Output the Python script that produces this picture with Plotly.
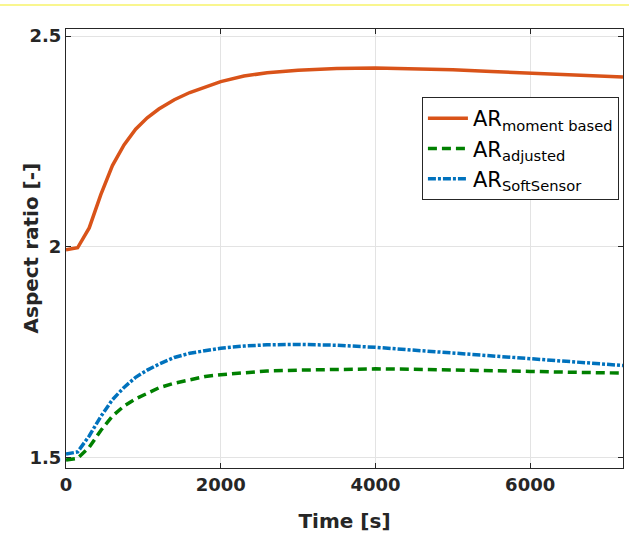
import plotly.graph_objects as go

time_s = [0, 150, 300, 450, 600, 750, 900, 1050, 1200, 1400, 1600, 1800, 2000,
          2300, 2600, 3000, 3500, 4000, 4500, 5000, 5500, 6000, 6500, 7000, 7200]
ar_moment = [1.993, 1.998, 2.045, 2.124, 2.193, 2.242, 2.279, 2.306, 2.327, 2.349,
             2.366, 2.379, 2.392, 2.405, 2.413, 2.419, 2.423, 2.424, 2.423, 2.420,
             2.416, 2.412, 2.409, 2.405, 2.403]
ar_adjusted = [1.495, 1.499, 1.525, 1.565, 1.599, 1.623, 1.640, 1.654, 1.666, 1.677,
               1.686, 1.693, 1.697, 1.702, 1.706, 1.708, 1.710, 1.711, 1.710, 1.709,
               1.707, 1.705, 1.703, 1.702, 1.701]
ar_soft = [1.509, 1.514, 1.552, 1.598, 1.638, 1.667, 1.691, 1.708, 1.722, 1.738,
           1.748, 1.755, 1.760, 1.765, 1.768, 1.769, 1.767, 1.762, 1.755, 1.748,
           1.741, 1.735, 1.728, 1.722, 1.719]

x_ticks = [0, 2000, 4000, 6000]
y_ticks = [1.5, 2, 2.5]
y_tick_labels = ["1.5", "2", "2.5"]

FONT = "DejaVu Sans"

fig = go.Figure()
fig.add_trace(go.Scatter(x=time_s, y=ar_moment, mode="lines",
                         name="AR<sub>moment based</sub>",
                         line=dict(color="#D95319", width=3.5)))
fig.add_trace(go.Scatter(x=time_s, y=ar_adjusted, mode="lines",
                         name="AR<sub>adjusted</sub>",
                         line=dict(color="#008000", width=3.5, dash="9px,5px")))
fig.add_trace(go.Scatter(x=time_s, y=ar_soft, mode="lines",
                         name="AR<sub>SoftSensor</sub>",
                         line=dict(color="#0072BD", width=3.5, dash="8px,2px,3px,2px")))

axis_common = dict(
    showline=True, linecolor="#262626", linewidth=1, mirror="ticks",
    ticks="inside", ticklen=5, tickcolor="#262626", tickwidth=1,
    showgrid=True, gridcolor="#e3e3e3", gridwidth=1, zeroline=False,
    tickfont=dict(family=FONT, size=18, color="#262626", weight="bold"),
)

fig.update_layout(
    width=629, height=542,
    margin=dict(l=66, r=6, t=29, b=74),
    paper_bgcolor="white", plot_bgcolor="white",
    showlegend=True,
    legend=dict(x=0.639, y=0.845, xanchor="left", yanchor="top",
                bgcolor="white", bordercolor="#262626", borderwidth=1,
                font=dict(family=FONT, size=21, color="black"),
                tracegroupgap=0, itemwidth=40),
    xaxis=dict(range=[0, 7200], tickvals=x_ticks,
               title=dict(text="Time [s]", standoff=20,
                          font=dict(family=FONT, size=20, color="#262626", weight="bold")),
               **axis_common),
    yaxis=dict(range=[1.476, 2.5166], tickvals=y_ticks, ticktext=y_tick_labels,
               **axis_common),
    annotations=[dict(text="Aspect ratio [-]", textangle=-90, showarrow=False,
                      xref="paper", yref="paper", x=-36 / 557, y=0.5,
                      xanchor="center", yanchor="middle",
                      font=dict(family=FONT, size=20, color="#262626", weight="bold"))],
    shapes=[dict(type="line", xref="paper", yref="paper",
                 x0=-66 / 557, x1=563 / 557, y0=1 + 24 / 439, y1=1 + 24 / 439,
                 line=dict(color="#f7f36a", width=1.5))],
)

fig.write_html("out.html")
